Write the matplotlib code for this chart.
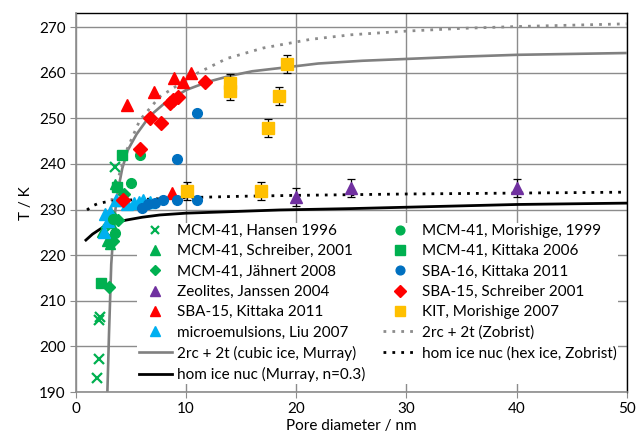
import matplotlib
matplotlib.use("Agg")
import matplotlib.pyplot as plt
from matplotlib.lines import Line2D

plt.rcParams['font.family'] = ['Lato', 'DejaVu Sans']

# ---- data (pore diameter nm, temperature K) ----
hansen_x = [1.95, 2.1, 2.1, 2.2, 3.5, 2.7, 3.0, 2.9]
hansen_y = [193.0, 197.3, 205.8, 206.4, 239.4, 225.0, 223.0, 227.5]

schreiber_mcm_x = [2.4, 2.8, 3.1, 3.5, 3.2]
schreiber_mcm_y = [225.0, 223.0, 222.5, 235.5, 227.0]

jahnert_x = [3.0, 3.4, 3.85, 3.3, 4.4]
jahnert_y = [213.0, 223.0, 227.7, 228.5, 233.5]

janssen_x = [20.0, 25.0, 40.0]
janssen_y = [232.8, 234.7, 234.7]
janssen_err = [2.0, 2.0, 2.0]

kittaka_sba15_x = [4.6, 7.1, 8.9, 9.7, 10.4, 8.7]
kittaka_sba15_y = [252.9, 255.8, 258.9, 257.9, 260.0, 233.7]

liu_x = [2.5, 2.6, 2.9, 3.1, 3.6, 4.2, 4.6, 5.3, 5.7, 6.1, 6.7]
liu_y = [225.0, 229.0, 227.5, 229.5, 232.0, 232.0, 231.3, 231.5, 231.7, 232.0, 231.7]

morishige_x = [5.0, 5.8, 3.55, 3.4]
morishige_y = [235.9, 242.0, 224.8, 228.0]

kittaka_mcm_x = [2.3, 3.7, 4.15]
kittaka_mcm_y = [214.0, 235.0, 242.0]

kittaka_sba16_x = [6.0, 6.5, 7.2, 7.9, 9.2, 11.0, 9.2, 11.0]
kittaka_sba16_y = [230.3, 231.2, 231.4, 232.0, 232.0, 232.0, 241.0, 251.1]

schreiber_sba15_x = [11.7, 9.3, 8.85, 8.55, 6.7, 7.7, 5.8, 4.3]
schreiber_sba15_y = [258.0, 254.7, 254.0, 253.3, 250.0, 248.9, 243.2, 232.0]

kit_x = [10.1, 14.0, 14.0, 16.8, 17.4, 18.4, 19.2]
kit_y = [234.0, 256.0, 257.8, 234.0, 247.9, 254.9, 261.9]
kit_err = [2.0, 2.0, 2.0, 2.0, 2.0, 2.0, 2.0]

# model curves
cubic_murray_x = [2.85, 3.0, 3.2, 3.5, 3.8, 4.2, 4.7, 5.5, 6.7, 8.0, 10.0, 12.0,
                  14.0, 16.0, 18.5, 22.0, 26.0, 30.0, 35.0, 40.0, 45.0, 50.0]
cubic_murray_y = [190.0, 203.0, 218.0, 228.5, 234.0, 239.0, 243.0, 246.5, 250.5,
                  253.2, 256.2, 258.0, 259.3, 260.3, 261.0, 262.0, 262.6, 263.0,
                  263.5, 263.9, 264.1, 264.3]

zobrist_2rc_x = [3.1, 3.3, 3.85, 4.6, 5.8, 7.6, 10.7, 13.7, 17.0, 21.3, 25.0,
                 30.0, 35.0, 40.0, 45.0, 50.0]
zobrist_2rc_y = [228.0, 233.0, 237.0, 243.0, 249.6, 254.7, 259.5, 263.1, 265.4,
                 267.3, 268.3, 269.1, 269.7, 270.1, 270.4, 270.7]

hom_murray_x = [0.9, 1.5, 2.5, 3.5, 4.6, 6.0, 7.6, 10.0, 13.7, 18.5, 25.0, 30.0,
                40.0, 50.0]
hom_murray_y = [223.3, 224.6, 226.2, 227.1, 227.7, 228.3, 228.8, 229.2, 229.5,
                229.9, 230.2, 230.5, 231.1, 231.4]

hom_zobrist_x = [1.0, 1.5, 2.0, 3.0, 5.0, 10.0, 15.0, 20.0, 30.0, 40.0, 50.0]
hom_zobrist_y = [229.9, 230.8, 231.3, 231.8, 232.1, 232.6, 232.9, 233.1, 233.4,
                 233.6, 233.8]

x_ticks = [0, 10, 20, 30, 40, 50]
y_ticks = [190, 200, 210, 220, 230, 240, 250, 260, 270]

# ---- colours ----
GREEN = '#00B050'
RED = '#FF0000'
BLUE = '#0070C0'
PURPLE = '#7030A0'
YELLOW = '#FFC000'
LBLUE = '#00B0F0'

FS = 11

fig = plt.figure(figsize=(6.37, 4.41), dpi=100)
ax = fig.add_axes([0.1193, 0.1111, 0.8645, 0.8587])

h = {}
h['hansen'], = ax.plot(hansen_x, hansen_y, ls='none', marker='x', ms=6.5, mew=1.6,
                       color=GREEN, label='MCM-41, Hansen 1996', zorder=4)
h['schr_mcm'], = ax.plot(schreiber_mcm_x, schreiber_mcm_y, ls='none', marker='^', ms=7.5,
                         color=GREEN, label='MCM-41, Schreiber, 2001', zorder=4)
h['jahnert'], = ax.plot(jahnert_x, jahnert_y, ls='none', marker='D', ms=6,
                        color=GREEN, label='MCM-41, Jähnert 2008', zorder=4)
eb = ax.errorbar(janssen_x, janssen_y, yerr=janssen_err, ls='none', marker='^',
                 ms=8, color=PURPLE, ecolor='black', elinewidth=0.9,
                 capsize=3, capthick=0.9, zorder=4)
h['janssen'] = Line2D([], [], ls='none', marker='^', ms=8, color=PURPLE,
                      label='Zeolites, Janssen 2004')
h['kit_sba15'], = ax.plot(kittaka_sba15_x, kittaka_sba15_y, ls='none', marker='^', ms=8,
                          color=RED, label='SBA-15, Kittaka 2011', zorder=4)
h['liu'], = ax.plot(liu_x, liu_y, ls='none', marker='^', ms=8,
                    color=LBLUE, label='microemulsions, Liu 2007', zorder=4)
h['cubic'], = ax.plot(cubic_murray_x, cubic_murray_y, color='#808080', lw=1.9,
                      label='2rc + 2t (cubic ice, Murray)', zorder=3)
h['hom_m'], = ax.plot(hom_murray_x, hom_murray_y, color='black', lw=2.0,
                      label='hom ice nuc (Murray, n=0.3)', zorder=3)
h['morishige'], = ax.plot(morishige_x, morishige_y, ls='none', marker='o', ms=7,
                          color=GREEN, label='MCM-41, Morishige, 1999', zorder=4)
h['kit_mcm'], = ax.plot(kittaka_mcm_x, kittaka_mcm_y, ls='none', marker='s', ms=7.5,
                        color=GREEN, label='MCM-41, Kittaka 2006', zorder=4)
h['sba16'], = ax.plot(kittaka_sba16_x, kittaka_sba16_y, ls='none', marker='o', ms=7,
                      color=BLUE, label='SBA-16, Kittaka 2011', zorder=4)
h['schr_sba15'], = ax.plot(schreiber_sba15_x, schreiber_sba15_y, ls='none', marker='D',
                           ms=7, color=RED, label='SBA-15, Schreiber 2001', zorder=4)
eb2 = ax.errorbar(kit_x, kit_y, yerr=kit_err, ls='none', marker='s', ms=8,
                  color=YELLOW, ecolor='black', elinewidth=0.9, capsize=3,
                  capthick=0.9, zorder=4)
h['kit'] = Line2D([], [], ls='none', marker='s', ms=8, color=YELLOW,
                  label='KIT, Morishige 2007')
h['zob2rc'], = ax.plot(zobrist_2rc_x, zobrist_2rc_y, color='#8C8C8C', lw=2.0,
                       ls=(0, (1, 2.2)), label='2rc + 2t (Zobrist)', zorder=3)
h['hom_z'], = ax.plot(hom_zobrist_x, hom_zobrist_y, color='black', lw=2.0,
                      ls=(0, (1, 2.2)), label='hom ice nuc (hex ice, Zobrist)', zorder=3)

ax.set_xlim(0, 50)
ax.set_ylim(190, 273)
ax.set_xticks(x_ticks)
ax.set_yticks(y_ticks)
ax.grid(True, color='#8C8C8C', lw=1.0)
ax.set_axisbelow(True)
ax.tick_params(axis='both', labelsize=FS, length=4, color='#8C8C8C', direction='out')
for s in ['left', 'bottom']:
    ax.spines[s].set_color('#8C8C8C')
    ax.spines[s].set_linewidth(1.2)
    ax.spines[s].set_zorder(6)
for s in ['top', 'right']:
    ax.spines[s].set_color('black')
    ax.spines[s].set_linewidth(1.0)

ax.set_xlabel('Pore diameter / nm', fontsize=FS, labelpad=2)
ax.set_ylabel('T / K', fontsize=FS, labelpad=4)

order = ['hansen', 'schr_mcm', 'jahnert', 'janssen', 'kit_sba15', 'liu', 'cubic', 'hom_m',
         'morishige', 'kit_mcm', 'sba16', 'schr_sba15', 'kit', 'zob2rc', 'hom_z']
leg = ax.legend([h[k] for k in order], [h[k].get_label() for k in order],
                ncol=2, loc='lower left', bbox_to_anchor=(0.097, 0.002),
                fontsize=FS, frameon=True, framealpha=1, facecolor='white',
                edgecolor='none', fancybox=False, handlelength=2.2, handletextpad=0.3,
                columnspacing=1.2, labelspacing=0.41, borderpad=0.1, markerscale=0.9)
leg.set_zorder(5)

fig.savefig('out.png', dpi=100)
